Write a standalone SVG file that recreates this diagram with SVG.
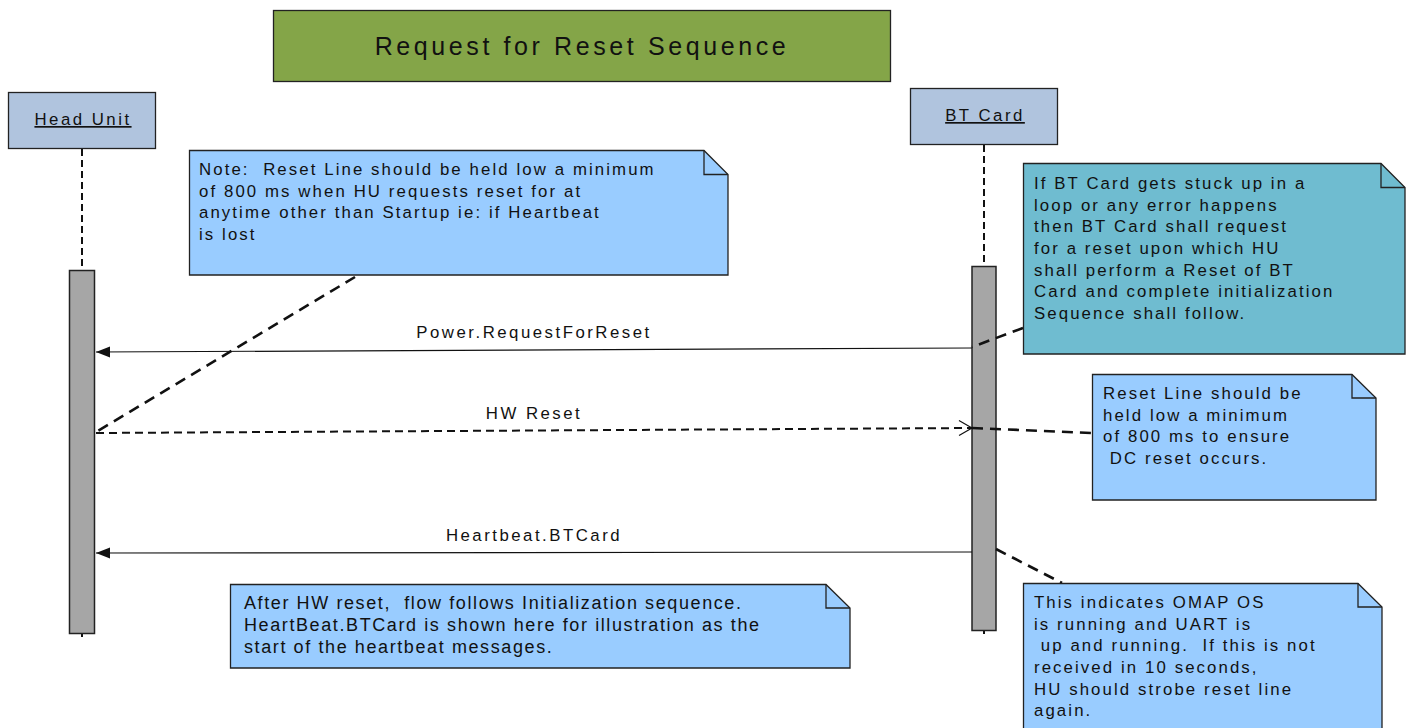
<svg xmlns="http://www.w3.org/2000/svg" width="1410" height="728" viewBox="0 0 1410 728">
<defs>
<style>
text{font-family:"Liberation Sans",Arial,sans-serif;fill:#111;white-space:pre;}
.t{font-size:16.8px;letter-spacing:2.1px;}
.lbl{font-size:16.8px;letter-spacing:2.5px;text-anchor:middle;}
.n5{font-size:18px;letter-spacing:1.6px;}
.box{stroke:#222;stroke-width:1.3;}
.note{fill:#99CCFF;stroke:#222;stroke-width:1.3;}
.fold{fill:none;stroke:#222;stroke-width:1.3;}
.life{stroke:#111;stroke-width:2;stroke-dasharray:7 4;fill:none;}
.bar{fill:#A6A6A6;stroke:#222;stroke-width:1.5;}
.msg{stroke:#111;stroke-width:1.2;fill:none;}
.dmsg{stroke:#111;stroke-width:2;stroke-dasharray:8 5;fill:none;}
.conn{stroke:#111;stroke-width:2.6;stroke-dasharray:11 7;fill:none;}
</style>
<marker id="filled" markerWidth="15" markerHeight="12" refX="14" refY="6" orient="auto" markerUnits="userSpaceOnUse">
<path d="M0,0.5 L14,6 L0,11.5 Z" fill="#111"/>
</marker>
<marker id="open" markerWidth="16" markerHeight="18" refX="14" refY="9" orient="auto" markerUnits="userSpaceOnUse">
<path d="M1,1.5 L14,9 L1,16.5" fill="none" stroke="#111" stroke-width="1.2"/>
</marker>
</defs>
<rect width="1410" height="728" fill="#fff"/>

<g id="title">
<rect x="273.5" y="10.5" width="617" height="71" fill="#84A548" class="box"/>
<text x="582" y="55" font-size="25" letter-spacing="3.6" text-anchor="middle">Request for Reset Sequence</text>
</g>

<g id="lifelines">
<line x1="82" y1="149" x2="82" y2="270" class="life"/>
<line x1="984" y1="145" x2="984" y2="266" class="life"/>
<line x1="82" y1="634" x2="82" y2="637" stroke="#111" stroke-width="2"/>
<line x1="984" y1="631" x2="984" y2="634" stroke="#111" stroke-width="2"/>
</g>

<g id="head-unit">
<rect x="8.5" y="92.5" width="147" height="56" fill="#B0C4DE" class="box"/>
<text x="83" y="125" class="lbl" style="text-decoration:underline">Head Unit</text>
<rect x="69.5" y="270.5" width="25" height="363" class="bar"/>
</g>

<g id="bt-card">
<rect x="910.5" y="88.5" width="147" height="56" fill="#B0C4DE" class="box"/>
<text x="985" y="121" class="lbl" style="text-decoration:underline">BT Card</text>
<rect x="972" y="266.5" width="24" height="364" class="bar"/>
</g>

<g id="connectors">
<line x1="972" y1="348" x2="96" y2="352" class="msg" marker-end="url(#filled)"/>
<line x1="96" y1="433" x2="972" y2="428" class="dmsg" marker-end="url(#open)"/>
<line x1="972" y1="552" x2="96" y2="553" class="msg" marker-end="url(#filled)"/>
<line x1="355" y1="277" x2="96" y2="432" class="conn"/>
<line x1="1023" y1="328" x2="972" y2="347" class="conn"/>
<line x1="972" y1="428" x2="1092" y2="433" class="conn"/>
<line x1="996" y1="549" x2="1062" y2="583" class="conn"/>
<text x="534" y="338" class="lbl">Power.RequestForReset</text>
<text x="534" y="419" class="lbl">HW Reset</text>
<text x="534" y="541" class="lbl">Heartbeat.BTCard</text>
</g>

<g id="note-reset-line">
<path d="M189.5,150.5 H704 L728,174.5 V275 H189.5 Z" class="note"/>
<path d="M704,150.5 V174.5 H728" class="fold"/>
<text class="t">
<tspan x="199" y="175">Note:  Reset Line should be held low a minimum</tspan>
<tspan x="199" y="197">of 800 ms when HU requests reset for at</tspan>
<tspan x="199" y="218">anytime other than Startup ie: if Heartbeat</tspan>
<tspan x="199" y="240">is lost</tspan>
</text>
</g>

<g id="note-bt-stuck">
<path d="M1023.5,163.5 H1381 L1405,187.5 V354 H1023.5 Z" fill="#6FBCD0" stroke="#222" stroke-width="1.3"/>
<path d="M1381,163.5 V187.5 H1405" class="fold"/>
<text class="t">
<tspan x="1034" y="189">If BT Card gets stuck up in a</tspan>
<tspan x="1034" y="211">loop or any error happens</tspan>
<tspan x="1034" y="232">then BT Card shall request</tspan>
<tspan x="1034" y="254">for a reset upon which HU</tspan>
<tspan x="1034" y="276">shall perform a Reset of BT</tspan>
<tspan x="1034" y="297">Card and complete initialization</tspan>
<tspan x="1034" y="319">Sequence shall follow.</tspan>
</text>
</g>

<g id="note-hw-reset">
<path d="M1092.5,374.5 H1352 L1376,398 V500 H1092.5 Z" class="note"/>
<path d="M1352,374.5 V398 H1376" class="fold"/>
<text class="t">
<tspan x="1103" y="399">Reset Line should be</tspan>
<tspan x="1103" y="421">held low a minimum</tspan>
<tspan x="1103" y="442">of 800 ms to ensure</tspan>
<tspan x="1103" y="464"> DC reset occurs.</tspan>
</text>
</g>

<g id="note-after-reset">
<path d="M230.5,584.5 H826 L850,608 V668 H230.5 Z" class="note"/>
<path d="M826,584.5 V608 H850" class="fold"/>
<text class="n5">
<tspan x="244" y="609">After HW reset,  flow follows Initialization sequence.</tspan>
<tspan x="244" y="631">HeartBeat.BTCard is shown here for illustration as the</tspan>
<tspan x="244" y="653">start of the heartbeat messages.</tspan>
</text>
</g>

<g id="note-omap">
<path d="M1023.5,583.5 H1358 L1382,607 V730 H1023.5 Z" class="note"/>
<path d="M1358,583.5 V607 H1382" class="fold"/>
<text class="t">
<tspan x="1034" y="608">This indicates OMAP OS</tspan>
<tspan x="1034" y="630">is running and UART is</tspan>
<tspan x="1034" y="651"> up and running.  If this is not</tspan>
<tspan x="1034" y="673">received in 10 seconds,</tspan>
<tspan x="1034" y="695">HU should strobe reset line</tspan>
<tspan x="1034" y="716">again.</tspan>
</text>
</g>
</svg>
